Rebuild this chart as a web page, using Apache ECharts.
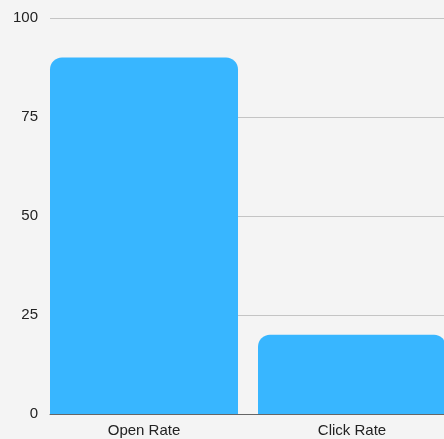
<!DOCTYPE html>
<html>
<head>
<meta charset="utf-8">
<script src="https://cdn.jsdelivr.net/npm/echarts@6/dist/echarts.min.js"></script>
<style>
html,body{margin:0;padding:0;background:#f4f4f4;}
#c{width:444px;height:439px;}
</style>
</head>
<body>
<div id="c"></div>
<script>
const categories = ['Open Rate', 'Click Rate'];
const values = [90, 20];
const yTicks = [0, 25, 50, 75, 100];

const chart = echarts.init(document.getElementById('c'), null, {renderer: 'canvas'});
const font = '"Liberation Sans", Arial, sans-serif';
chart.setOption({
  backgroundColor: '#f4f4f4',
  animation: false,
  grid: [
    {left: 50, right: 0, top: 18, bottom: 25, outerBoundsMode: 'none'},
    {left: 40, width: 416, top: 18, bottom: 25, outerBoundsMode: 'none', containLabel: false}
  ],
  xAxis: [
    {
      type: 'category', gridIndex: 0, data: categories,
      axisLine: {show: true, lineStyle: {color: '#666', width: 1}},
      axisTick: {show: false}, axisLabel: {show: false}, splitLine: {show: false}
    },
    {
      type: 'category', gridIndex: 1, data: categories,
      axisLine: {show: false}, axisTick: {show: false},
      axisLabel: {color: '#222', fontSize: 15, fontFamily: font, margin: 9}
    }
  ],
  yAxis: [
    {
      type: 'value', gridIndex: 0, min: yTicks[0], max: yTicks[yTicks.length - 1], interval: 25,
      axisLine: {show: false}, axisTick: {show: false},
      axisLabel: {color: '#222', fontSize: 15, fontFamily: font, margin: 12},
      splitLine: {show: true, lineStyle: {color: '#c4c4c4', width: 1}}
    },
    {
      type: 'value', gridIndex: 1, min: 0, max: 100, show: false
    }
  ],
  series: [{
    type: 'bar', xAxisIndex: 1, yAxisIndex: 1,
    data: values, barWidth: 188,
    itemStyle: {color: '#38b6ff', borderRadius: [12, 12, 0, 0]},
    z: 5
  }]
});
</script>
</body>
</html>
